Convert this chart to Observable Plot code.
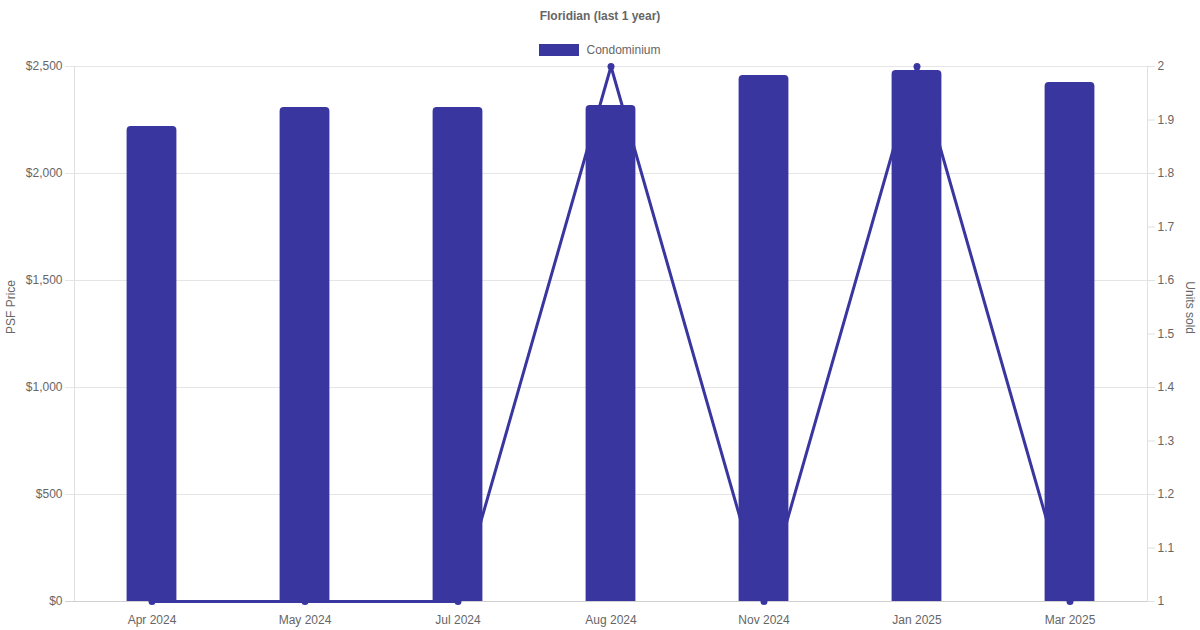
<!DOCTYPE html>
<html><head><meta charset="utf-8">
<script src="https://cdn.jsdelivr.net/npm/d3@7"></script>
<script src="https://cdn.jsdelivr.net/npm/@observablehq/plot@0.6"></script>
<style>
body{margin:0;background:#fff;font-family:"Liberation Sans",Arial,sans-serif;}
#wrap{width:1200px;height:630px;position:relative;overflow:hidden;}
#head{height:56px;position:relative;}
#title{position:absolute;top:9px;left:0;width:1200px;text-align:center;font-size:12px;font-weight:bold;color:#666;}
#legend{position:absolute;top:43px;left:0;width:1200px;display:flex;justify-content:center;align-items:center;gap:7px;font-size:12px;color:#666;}
#legend .sw{width:40px;height:12px;background:#3a36a0;}
#chart svg{display:block;}
</style></head>
<body>
<div id="wrap">
  <div id="head">
    <div id="title">Floridian (last 1 year)</div>
    <div id="legend"><span class="sw"></span><span>Condominium</span></div>
  </div>
  <div id="chart"></div>
</div>
<script>
const months = ["Apr 2024","May 2024","Jul 2024","Aug 2024","Nov 2024","Jan 2025","Mar 2025"];
const psf = [2220,2308,2308,2318,2458,2481,2425];
const units = [1,1,1,2,1,2,1];
const psfTicks = [0,500,1000,1500,2000,2500];
const unitTicks = [1,1.1,1.2,1.3,1.4,1.5,1.6,1.7,1.8,1.9,2];
const UMIN = 1, UMAX = 2, PMAX = 2500;
const COLOR = "#3a36a0";
const toP = u => (u - UMIN) / (UMAX - UMIN) * PMAX;
const fromP = p => Math.round((p / PMAX * (UMAX - UMIN) + UMIN) * 10) / 10;
const rows = months.map((m, i) => ({month: m, psf: psf[i], units: units[i], uy: toP(units[i])}));

const chart = Plot.plot({
  width: 1200, height: 574,
  marginLeft: 74, marginRight: 53, marginTop: 10, marginBottom: 29,
  style: {fontFamily: '"Liberation Sans", Arial, sans-serif', fontSize: "12px", color: "#666", background: "#fff"},
  x: {domain: months, padding: 0, axis: null, label: null},
  y: {domain: [0, PMAX], axis: null, label: null},
  marks: [
    Plot.ruleY(psfTicks, {stroke: "#e5e5e5", insetLeft: -9}),
    Plot.frame({anchor: "left", stroke: "#e0e0e0"}),
    Plot.frame({anchor: "right", stroke: "#e0e0e0"}),
    Plot.ruleY([0], {stroke: "#d0d0d0", insetLeft: -9}),
    Plot.axisY(psfTicks, {anchor: "left", label: null, tickSize: 0, tickPadding: 12, tickFormat: d => "$" + d3.format(",")(d), fill: "#666"}),
    Plot.axisY(unitTicks.map(toP), {anchor: "right", label: null, tickSize: 7, tickPadding: 3, stroke: "#e0e0e0", fill: "#666", tickFormat: d => String(fromP(d))}),
    Plot.axisX(months, {anchor: "bottom", label: null, tickSize: 0, tickPadding: 14, fill: "#666"}),
    Plot.barY(rows, {x: "month", y: "psf", fill: COLOR, insetLeft: 51.6, insetRight: 51.6, insetBottom: -6, rx: 4, clip: "frame"}),
    Plot.line(rows, {x: "month", y: "uy", stroke: COLOR, strokeWidth: 3}),
    Plot.dot(rows, {x: "month", y: "uy", fill: COLOR, r: 3.5}),
    Plot.text(["PSF Price"], {frameAnchor: "left", dx: -63, rotate: -90, fill: "#666", fontSize: 12}),
    Plot.text(["Units sold"], {frameAnchor: "right", dx: 42, rotate: 90, fill: "#666", fontSize: 12})
  ]
});
document.getElementById("chart").appendChild(chart);
</script>
</body></html>
